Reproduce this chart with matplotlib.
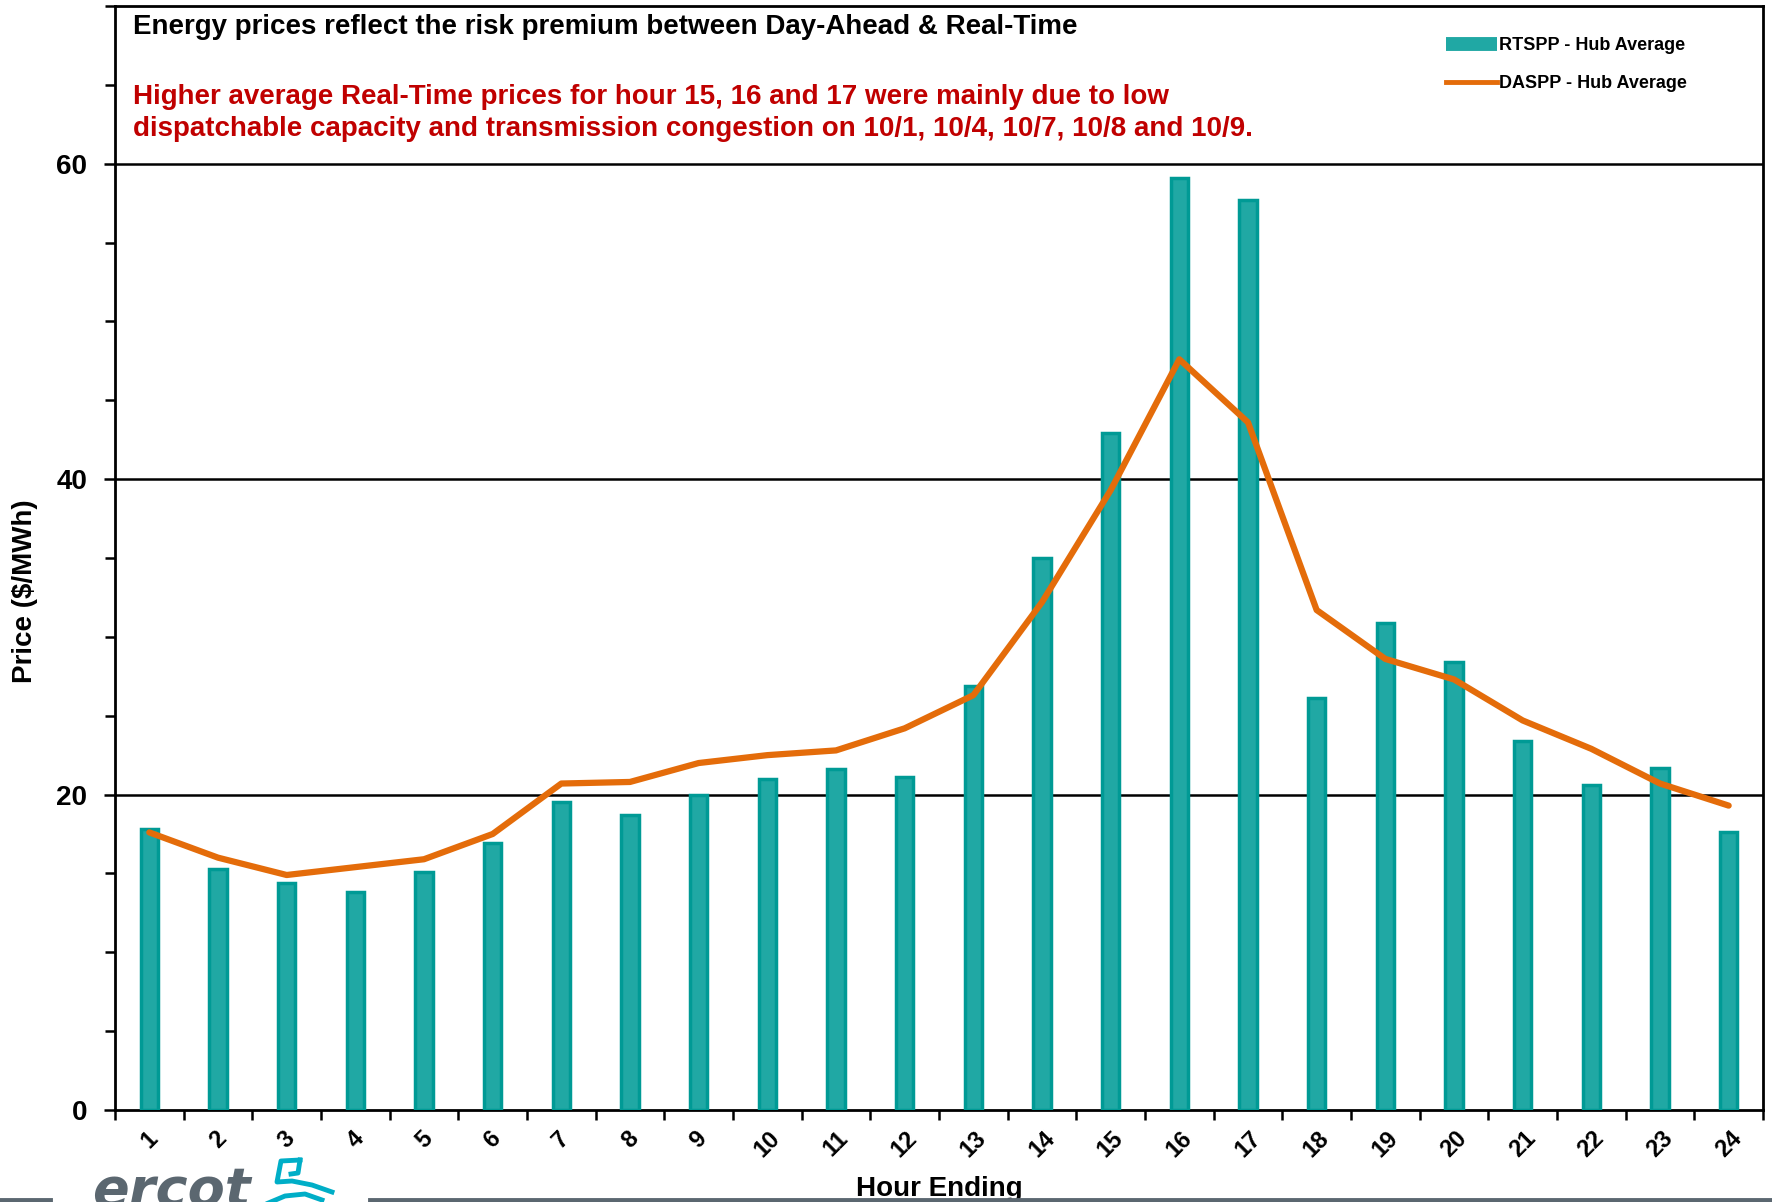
import numpy as np
import matplotlib.pyplot as plt
from matplotlib.lines import Line2D

# --- Data ---
hours = [str(h) for h in range(1, 25)]
rtspp = [17.8, 15.3, 14.4, 13.8, 15.1, 16.9, 19.5, 18.7, 20.0, 21.0, 21.6, 21.1,
         26.9, 35.0, 42.9, 59.1, 57.7, 26.1, 30.9, 28.4, 23.4, 20.6, 21.7, 17.6]
daspp = [17.6, 16.0, 14.9, 15.4, 15.9, 17.5, 20.7, 20.8, 22.0, 22.5, 22.8, 24.2,
         26.3, 32.2, 39.3, 47.6, 43.6, 31.7, 28.6, 27.3, 24.7, 22.9, 20.7, 19.3]

title_text = "Energy prices reflect the risk premium between Day-Ahead & Real-Time"
note_text = ("Higher average Real-Time prices for hour 15, 16 and 17 were mainly due to low\n"
             "dispatchable capacity and transmission congestion on 10/1, 10/4, 10/7, 10/8 and 10/9.")

teal_fill = '#20A8A4'
teal_edge = '#009A95'
orange = '#E46C0A'
red = '#C00000'
gray = '#5B6770'
logo_blue = '#00AEC7'

plt.rcParams['font.family'] = ['Liberation Sans', 'DejaVu Sans']
plt.rcParams['font.weight'] = 'bold'

W, H = 1772, 1202
fig = plt.figure(figsize=(W / 100, H / 100), dpi=100)
ax = fig.add_axes([115 / W, 1 - 1110 / H, (1763 - 115) / W, (1110 - 6) / H])

x = np.arange(len(hours))
ax.bar(x, rtspp, width=0.25, color=teal_fill, edgecolor=teal_edge, linewidth=2.5, zorder=3)
ax.plot(x, daspp, color=orange, linewidth=4.5, zorder=4, solid_capstyle='round')

ax.set_xlim(-0.5, len(hours) - 0.5)
ax.set_ylim(0, 70)

# y axis: labels every 20, minor ticks every 5
ax.set_yticks([0, 20, 40, 60])
ax.set_yticks(np.arange(0, 71, 5), minor=True)
ax.tick_params(axis='y', which='major', labelsize=20, length=8, width=1.8, pad=12)
ax.tick_params(axis='y', which='minor', length=7, width=1.8)
for yv in [20, 40, 60]:
    ax.axhline(yv, color='black', linewidth=1.8, zorder=1)

# x axis: ticks between categories, labels centered under the bars
ax.set_xticks(np.arange(-0.5, len(hours), 1.0))
ax.set_xticklabels([])
ax.set_xticks(x, minor=True)
ax.set_xticklabels(hours, minor=True, rotation=45, fontsize=17, fontweight='bold')
ax.tick_params(axis='x', which='major', length=7, width=1.8)
ax.tick_params(axis='x', which='minor', length=0, pad=12)

for sp in ax.spines.values():
    sp.set_linewidth(2)

ax.set_ylabel("Price ($/MWh)", fontsize=20, fontweight='bold')
ax.yaxis.set_label_coords(-0.047, 0.47)
ax.set_xlabel("Hour Ending", fontsize=20, fontweight='bold')
ax.xaxis.set_label_coords(0.5, (1110 - 1196) / 1104)
ax.xaxis.label.set_va('baseline')

# annotation text inside the plot
fig.text(133 / W, 1 - 27 / H, title_text, fontsize=20, fontweight='bold',
         color='black', va='center', ha='left')
fig.text(133 / W, 1 - 113 / H, note_text, fontsize=20, fontweight='bold',
         color=red, va='center', ha='left', linespacing=1.3)

# legend
handles = [Line2D([0], [0], color=teal_fill, lw=10, solid_capstyle='butt'),
           Line2D([0], [0], color=orange, lw=3.5)]
fig.legend(handles, ["RTSPP - Hub Average", "DASPP - Hub Average"],
           loc='upper left', bbox_to_anchor=(1430 / W, 1 - 21 / H),
           frameon=False, handlelength=2.8, handletextpad=0.1,
           labelspacing=1.15, prop={'weight': 'bold', 'size': 13})

# ercot footer: gray rule with the logo
fig.add_artist(Line2D([0, 50 / W], [1 - 1200 / H] * 2, color=gray, lw=3.5,
                      transform=fig.transFigure))
fig.add_artist(Line2D([370 / W, 1], [1 - 1200 / H] * 2, color=gray, lw=3.5,
                      transform=fig.transFigure))
fig.text(92 / W, 1 - 1206 / H, "ercot", fontsize=39, style='italic', color=gray,
         ha='left', va='baseline', family='DejaVu Sans', fontweight='bold')
logo_x = [300, 281, 277, 292, 312, 332]
logo_y = [1160, 1161, 1182, 1181, 1185, 1192]
fig.add_artist(Line2D([v / W for v in logo_x], [1 - v / H for v in logo_y],
                      color=logo_blue, lw=3.5, transform=fig.transFigure))
fig.add_artist(Line2D([300 / W, 298 / W, 291 / W], [1 - 1160 / H, 1 - 1173 / H, 1 - 1174 / H],
                      color=logo_blue, lw=3.5, transform=fig.transFigure))
fig.add_artist(Line2D([266 / W, 285 / W, 305 / W, 322 / W],
                      [1 - 1204 / H, 1 - 1196 / H, 1 - 1194 / H, 1 - 1200 / H],
                      color=logo_blue, lw=3.5, transform=fig.transFigure))

plt.savefig("out.png", dpi=100)
